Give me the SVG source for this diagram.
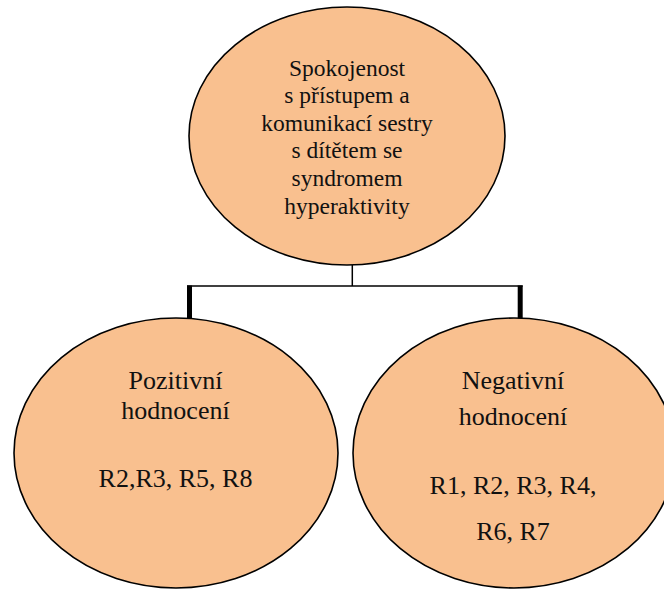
<svg xmlns="http://www.w3.org/2000/svg" width="664" height="589" viewBox="0 0 664 589">
  <style>
    .node { fill: #F9C08F; stroke: #000; stroke-width: 1.6; }
    .lbl { font-family: "Liberation Serif", "Times New Roman", serif; fill: #111; text-anchor: middle; }
    .top { font-size: 23.5px; }
    .sub { font-size: 26px; }
    .thin { stroke: #000; stroke-width: 1.5; fill: none; }
    .thick { stroke: #000; stroke-width: 5; fill: none; }
  </style>
  <rect width="664" height="589" fill="#fff"/>

  <!-- connectors -->
  <g id="connectors">
    <line class="thin" x1="352.3" y1="265" x2="352.3" y2="286"/>
    <line class="thin" x1="187" y1="286" x2="522.7" y2="286"/>
    <line class="thick" x1="189.5" y1="285.5" x2="189.5" y2="319"/>
    <line class="thick" x1="520.2" y1="285.5" x2="520.2" y2="319"/>
  </g>

  <!-- root node -->
  <g id="spokojenost">
    <ellipse class="node" cx="347" cy="136" rx="158" ry="129"/>
    <text class="lbl top" x="347" y="75.5">Spokojenost</text>
    <text class="lbl top" x="347" y="103">s přístupem a</text>
    <text class="lbl top" x="347" y="130.5">komunikací sestry</text>
    <text class="lbl top" x="347" y="158">s dítětem se</text>
    <text class="lbl top" x="347" y="186">syndromem</text>
    <text class="lbl top" x="347" y="213.5">hyperaktivity</text>
  </g>

  <!-- positive assessments -->
  <g id="pozitivni">
    <ellipse class="node" cx="176" cy="453" rx="162" ry="135"/>
    <text class="lbl sub" x="175.5" y="389">Pozitivní</text>
    <text class="lbl sub" x="175.5" y="419">hodnocení</text>
    <text class="lbl sub" x="175.5" y="487">R2,R3, R5, R8</text>
  </g>

  <!-- negative assessments -->
  <g id="negativni">
    <ellipse class="node" cx="514" cy="453" rx="161" ry="135"/>
    <text class="lbl sub" x="513" y="389">Negativní</text>
    <text class="lbl sub" x="513" y="425">hodnocení</text>
    <text class="lbl sub" x="513" y="494">R1, R2, R3, R4,</text>
    <text class="lbl sub" x="513" y="540">R6, R7</text>
  </g>
</svg>
